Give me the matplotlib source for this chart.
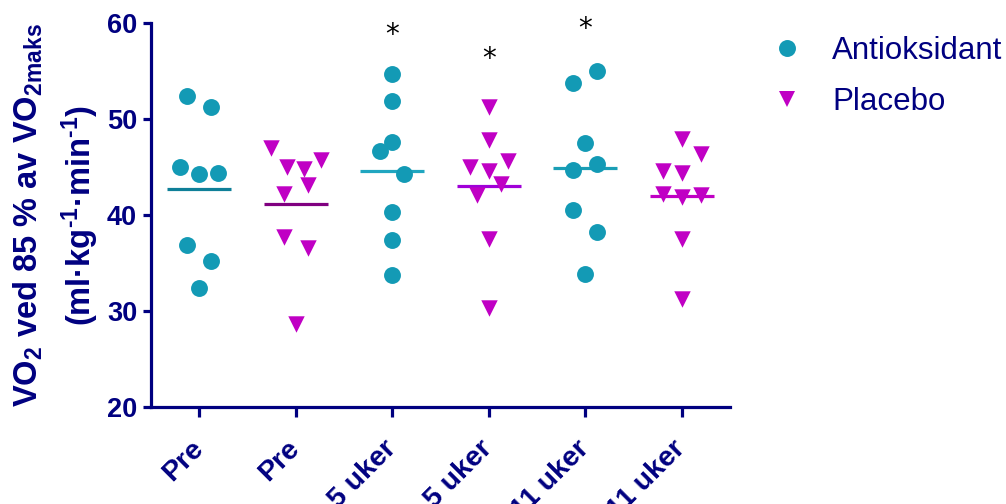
import numpy as np
import matplotlib
matplotlib.use("Agg")
import matplotlib.pyplot as plt
from matplotlib.lines import Line2D

# Column labels and treatment of each column
columns = ["Pre", "Pre", "5 uker", "5 uker", "11 uker", "11 uker"]
treatment = ["Antioksidant", "Placebo", "Antioksidant", "Placebo", "Antioksidant", "Placebo"]

# VO2 at 85 % of VO2max (ml/kg/min), one value per subject, in entry order
anti_pre = [52.4, 51.3, 45.0, 44.3, 44.4, 36.9, 35.2, 32.4]
plac_pre = [47.0, 45.0, 44.8, 45.7, 42.2, 43.1, 37.7, 36.6, 28.6]
anti_5 = [54.7, 51.9, 47.6, 46.7, 44.3, 40.3, 37.4, 33.8]
plac_5 = [51.2, 47.8, 45.0, 44.6, 45.6, 42.1, 43.2, 37.5, 30.3]
anti_11 = [53.7, 55.0, 47.5, 44.7, 45.3, 40.5, 38.2, 33.9]
plac_11 = [47.9, 44.6, 44.4, 46.4, 42.2, 41.9, 42.1, 37.5, 31.2]

# Significance markers (column index -> height of the asterisk)
star_columns = [2, 3, 4]
star_heights = [58.7, 56.2, 59.4]

series = [anti_pre, plac_pre, anti_5, plac_5, anti_11, plac_11]

NAVY = "#000080"
TEAL = "#139AB5"
MAGENTA = "#C000C4"
mean_colors = ["#0E7F98", "#800080", "#20A6C0", "#A000D8", "#1A9EB5", "#C000C4"]

plt.rcParams["font.family"] = ["Liberation Sans", "DejaVu Sans"]
plt.rcParams["mathtext.fontset"] = "custom"
plt.rcParams["mathtext.rm"] = "Liberation Sans:bold"
plt.rcParams["mathtext.it"] = "Liberation Sans:bold"
plt.rcParams["mathtext.bf"] = "Liberation Sans:bold"
plt.rcParams["mathtext.default"] = "rm"


def column_layout(values, origin=38.0, height=3.1, width=0.345):
    """Spread points that fall in the same horizontal band side by side."""
    values = np.asarray(values, dtype=float)
    bands = np.floor((values - origin) / height).astype(int)
    offsets = np.zeros(len(values))
    for b in np.unique(bands):
        idx = np.flatnonzero(bands == b)
        n = len(idx)
        if n > 1:
            step = width / np.sqrt(n)
            offsets[idx] = (np.arange(n) - (n - 1) / 2) * step
    return offsets


W, H = 1006, 504
fig = plt.figure(figsize=(W / 100, H / 100), dpi=100)
ax = fig.add_axes([151 / W, 1 - 407 / H, (730 - 151) / W, (407 - 23) / H])

positions = np.arange(1, len(columns) + 1)
for pos, vals, kind, mcol in zip(positions, series, treatment, mean_colors):
    vals = np.asarray(vals)
    xs = pos + column_layout(vals)
    ax.hlines(vals.mean(), pos - 0.33, pos + 0.33, color=mcol, lw=2.3, zorder=2)
    if kind == "Antioksidant":
        ax.scatter(xs, vals, s=148, marker="o", color=TEAL, linewidths=0, zorder=3)
    else:
        ax.scatter(xs, vals, s=140, marker="v", color=MAGENTA, linewidths=0, zorder=3)

for c, h in zip(star_columns, star_heights):
    ax.text(positions[c], h, "*", ha="center", va="center", fontsize=20,
            color="black", family="DejaVu Sans")

ax.set_xlim(0.5, 6.5)
ax.set_ylim(20, 60)
ax.set_yticks([20, 30, 40, 50, 60])
ax.set_xticks(positions)
ax.set_xticklabels(columns, rotation=45, ha="right", va="center",
                   rotation_mode="anchor")

for side in ("top", "right"):
    ax.spines[side].set_visible(False)
for side in ("left", "bottom"):
    ax.spines[side].set_color(NAVY)
    ax.spines[side].set_linewidth(2.3)

ax.tick_params(axis="y", colors=NAVY, width=2.3, length=6, pad=4,
               labelsize=19.5)
ax.tick_params(axis="x", colors=NAVY, width=2.3, length=7, pad=20,
               labelsize=20.5)
for lab in ax.get_xticklabels() + ax.get_yticklabels():
    lab.set_fontweight("bold")

ax.set_ylabel("VO$_2$ ved 85 % av VO$_{2maks}$\n"
              "(ml·kg$^{\\text{-1}}$·min$^{\\text{-1}}$)",
              fontsize=23.5, fontweight="bold", color=NAVY, labelpad=4,
              linespacing=1.47)

handles = [
    Line2D([], [], marker="o", linestyle="none", markersize=12.2,
           markerfacecolor=TEAL, markeredgewidth=0),
    Line2D([], [], marker="v", linestyle="none", markersize=11.8,
           markerfacecolor=MAGENTA, markeredgewidth=0),
]
fig.legend(handles, ["Antioksidant", "Placebo"], loc="upper left",
           bbox_to_anchor=(771 / W, 1 - 36 / H), frameon=False, fontsize=22.5,
           labelcolor=NAVY, handlelength=1.0, handletextpad=0.95,
           labelspacing=0.66, borderpad=0, borderaxespad=0)

fig.savefig("out.png", dpi=100)
